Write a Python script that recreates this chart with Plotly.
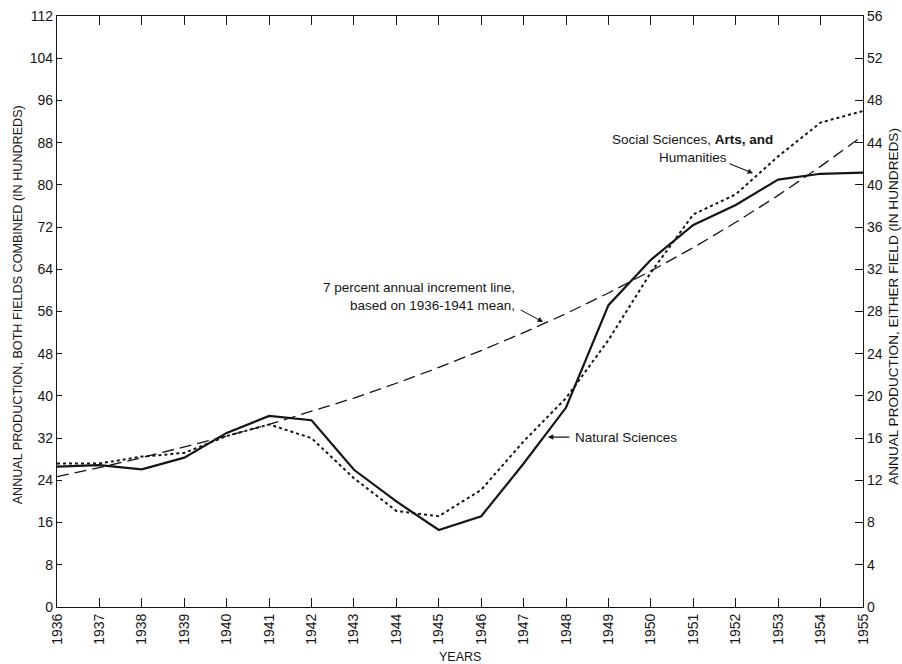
import plotly.graph_objects as go

years = list(range(1936, 1956))
# values in hundreds, either field (right axis units)
natural_sciences = [13.3, 13.45, 13.05, 14.15, 16.5, 18.1, 17.7, 13.0, 10.0, 7.3,
                    8.6, 13.6, 18.9, 28.6, 32.9, 36.2, 38.1, 40.5, 41.05, 41.15]
social_sciences = [13.6, 13.6, 14.25, 14.6, 16.2, 17.3, 16.0, 12.2, 9.1, 8.6,
                   11.1, 15.7, 19.8, 25.3, 31.7, 37.2, 39.1, 42.7, 45.9, 47.0]
increment_line = [12.35, 13.2, 14.15, 15.15, 16.2, 17.3, 18.55, 19.8, 21.2, 22.7,
                  24.3, 26.0, 27.8, 29.75, 31.85, 34.05, 36.45, 39.0, 41.75, 44.65]

left_ticks = list(range(0, 113, 8))
right_ticks = list(range(0, 57, 4))

FONT = "Liberation Sans, Arial, sans-serif"
INK = "#151515"

fig = go.Figure()
fig.add_trace(go.Scatter(x=years, y=increment_line, mode="lines", yaxis="y2",
                         line=dict(color=INK, width=1.3, dash="12px,6px"),
                         name="7 percent annual increment line"))
fig.add_trace(go.Scatter(x=years, y=social_sciences, mode="lines", yaxis="y2",
                         line=dict(color=INK, width=2, dash="dot"),
                         name="Social Sciences, Arts, and Humanities"))
fig.add_trace(go.Scatter(x=years, y=natural_sciences, mode="lines", yaxis="y2",
                         line=dict(color=INK, width=2.2),
                         name="Natural Sciences"))
# binds the left axis (combined scale)
fig.add_trace(go.Scatter(x=[], y=[], yaxis="y", showlegend=False, hoverinfo="skip"))

fig.update_layout(
    width=902, height=664,
    margin=dict(l=57, r=39, t=16, b=57, autoexpand=False),
    paper_bgcolor="white", plot_bgcolor="white",
    showlegend=False,
    font=dict(family=FONT, color=INK, size=13),
    xaxis=dict(range=[1936, 1955], tickmode="array", tickvals=years,
               ticktext=[str(y) for y in years], tickangle=-90, automargin=False,
               ticks="inside", ticklen=9, tickwidth=1.2, tickcolor=INK,
               showline=True, linecolor=INK, linewidth=1.2, mirror="ticks",
               showgrid=False, zeroline=False, tickfont=dict(size=14, color=INK)),
    yaxis=dict(range=[0, 112], tickmode="array", tickvals=left_ticks, automargin=False,
               ticks="inside", ticklen=5, tickwidth=1.2, tickcolor=INK,
               showline=True, linecolor=INK, linewidth=1.2,
               showgrid=False, zeroline=False, tickfont=dict(size=14, color=INK)),
    yaxis2=dict(range=[0, 56], tickmode="array", tickvals=right_ticks,
                overlaying="y", side="right", automargin=False,
                ticks="inside", ticklen=8, tickwidth=1.2, tickcolor=INK,
                showline=True, linecolor=INK, linewidth=1.2,
                showgrid=False, zeroline=False, tickfont=dict(size=14, color=INK)),
)

ann_font = dict(family=FONT, size=13.5, color=INK)
anns = [
    # axis titles
    dict(text="ANNUAL PRODUCTION, BOTH FIELDS COMBINED (IN HUNDREDS)", textangle=-90,
         xref="paper", yref="paper", x=-0.048, y=0.511, xanchor="center", yanchor="middle",
         showarrow=False, font=dict(family=FONT, size=12.6, color=INK)),
    dict(text="ANNUAL PRODUCTION, EITHER FIELD (IN HUNDREDS)", textangle=-90,
         xref="paper", yref="paper", x=1.0385, y=0.508, xanchor="center", yanchor="middle",
         showarrow=False, font=dict(family=FONT, size=13.6, color=INK)),
    dict(text="YEARS", xref="paper", yref="paper", x=0.5, y=-0.0846,
         xanchor="center", yanchor="middle", showarrow=False,
         font=dict(family=FONT, size=12.5, color=INK)),
    # text labels
    dict(text="7 percent annual increment line,<br>based on 1936-1941 mean,",
         xref="x", yref="y2", x=1946.84, y=29.4, xanchor="right", yanchor="middle",
         align="right", showarrow=False, font=ann_font),
    dict(text="Social Sciences, <b>Arts, and</b><br>Humanities",
         xref="x", yref="y2", x=1950.97, y=43.4, xanchor="center", yanchor="middle",
         align="center", showarrow=False, font=ann_font),
    dict(text="Natural Sciences", xref="x", yref="y2", x=1948.16, y=16.1,
         xanchor="left", yanchor="middle", showarrow=False, font=ann_font),
    # arrows
    dict(text="", xref="x", yref="y2", x=1947.57, y=16.1, ax=23, ay=0,
         showarrow=True, arrowhead=2, arrowsize=1, arrowwidth=1.1, arrowcolor=INK),
    dict(text="", xref="x", yref="y2", x=1952.41, y=41.1, ax=-25, ay=-10,
         showarrow=True, arrowhead=2, arrowsize=1, arrowwidth=1.1, arrowcolor=INK),
    dict(text="", xref="x", yref="y2", x=1947.46, y=27.0, ax=-24, ay=-13,
         showarrow=True, arrowhead=2, arrowsize=1, arrowwidth=1.1, arrowcolor=INK),
]
fig.update_layout(annotations=anns)

fig.write_html("out.html", config={"displayModeBar": False},
               post_script="document.body.style.margin='0px';document.body.style.padding='0px';")
